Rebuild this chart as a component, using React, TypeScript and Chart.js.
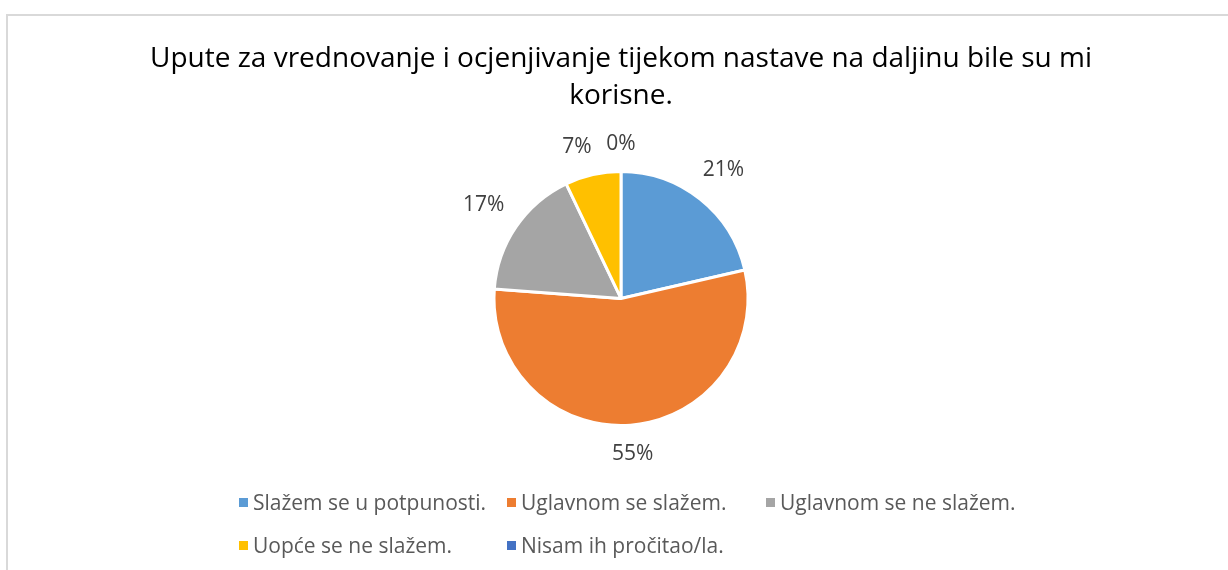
import React, { useEffect, useRef } from "react";
import { Chart, registerables } from "chart.js";

Chart.register(...registerables);

const TITLE_LINES = [
  "Upute za vrednovanje i ocjenjivanje tijekom nastave na daljinu bile su mi",
  "korisne.",
];
const CATEGORIES = [
  "Slažem se u potpunosti.",
  "Uglavnom se slažem.",
  "Uglavnom se ne slažem.",
  "Uopće se ne slažem.",
  "Nisam ih pročitao/la.",
];
const VALUES = [21.4, 54.8, 16.7, 7.1, 0];
const COLORS = ["#5B9BD5", "#ED7D31", "#A5A5A5", "#FFC000", "#4472C4"];
const FONT = "'Open Sans', sans-serif";

const outsideLabels = {
  id: "outsideLabels",
  afterDatasetsDraw(chart: any) {
    const ctx = chart.ctx;
    const meta = chart.getDatasetMeta(0);
    const total = VALUES.reduce((a, b) => a + b, 0);
    ctx.save();
    ctx.font = `21px ${FONT}`;
    ctx.fillStyle = "#404040";
    ctx.textAlign = "center";
    ctx.textBaseline = "middle";
    const h = 22;
    const gap = 14;
    const place = (x: number, y: number, R: number, ang: number, w: number) => {
      const c = Math.cos(ang);
      const s = Math.sin(ang);
      const ext = Math.abs(c) * (w / 2) + Math.abs(s) * (h / 2);
      const r = R + 16 + ext;
      return { cx: x + c * r, cy: y + s * r };
    };
    const placed: { cx: number; cy: number; w: number }[] = [];
    const items: any[] = [];
    meta.data.forEach((arc: any, i: number) => {
      const p = arc.getProps(["x", "y", "startAngle", "endAngle", "outerRadius"], true);
      items.push({ ...p, i });
    });
    for (let k = items.length - 1; k >= 0; k--) {
      const { x, y, startAngle, endAngle, outerRadius, i } = items[k];
      let ang = (startAngle + endAngle) / 2;
      const text = Math.round((VALUES[i] / total) * 100) + "%";
      const w = ctx.measureText(text).width;
      let pos = place(x, y, outerRadius, ang, w);
      let guard = 0;
      const overlaps = () =>
        placed.some(
          (q) =>
            Math.abs(q.cx - pos.cx) < (q.w + w) / 2 + gap &&
            Math.abs(q.cy - pos.cy) < h
        );
      while (overlaps() && guard < 200) {
        ang -= 0.005;
        pos = place(x, y, outerRadius, ang, w);
        guard++;
      }
      placed.push({ cx: pos.cx, cy: pos.cy, w });
      ctx.fillText(text, pos.cx, pos.cy);
    }
    ctx.restore();
  },
};

export default function App() {
  const ref = useRef<HTMLCanvasElement>(null);
  useEffect(() => {
    if (!ref.current) return;
    const chart = new Chart(ref.current, {
      type: "pie",
      data: {
        labels: CATEGORIES,
        datasets: [
          {
            data: VALUES,
            backgroundColor: COLORS,
            borderColor: "#ffffff",
            borderWidth: 3,
          },
        ],
      },
      options: {
        animation: false,
        responsive: false,
        layout: { padding: { left: 14, top: 0, bottom: 143, right: 0 } },
        plugins: {
          legend: { display: false },
          tooltip: { enabled: false },
          title: {
            display: true,
            text: TITLE_LINES,
            color: "#000000",
            font: { family: FONT, size: 28, weight: "normal", lineHeight: 1.32 },
            padding: { top: 41, bottom: 55 },
          },
        },
      },
      plugins: [outsideLabels],
    });
    return () => chart.destroy();
  }, []);

  return (
    <div style={{ position: "fixed", left: 0, top: 0, width: 1228, height: 570, background: "#fff", overflow: "hidden" }}>
      <div
        style={{
          position: "absolute",
          left: 6,
          top: 14,
          width: 1240,
          height: 580,
          borderTop: "2px solid #d9d9d9",
          borderLeft: "2px solid #d9d9d9",
        }}
      />
      <canvas ref={ref} width={1228} height={570} style={{ position: "absolute", left: 0, top: 0 }} />
      <div
        style={{
          position: "absolute",
          left: 239,
          top: 489,
          display: "grid",
          gridTemplateColumns: "268px 259px auto",
          rowGap: 17,
          fontFamily: FONT,
          fontSize: 21,
          color: "#595959",
          lineHeight: "26px",
        }}
      >
        {CATEGORIES.map((c, i) => (
          <div key={c} style={{ display: "flex", alignItems: "center", whiteSpace: "nowrap" }}>
            <span style={{ display: "inline-block", width: 9, height: 9, background: COLORS[i], marginRight: 5 }} />
            <span>{c}</span>
          </div>
        ))}
      </div>
    </div>
  );
}
